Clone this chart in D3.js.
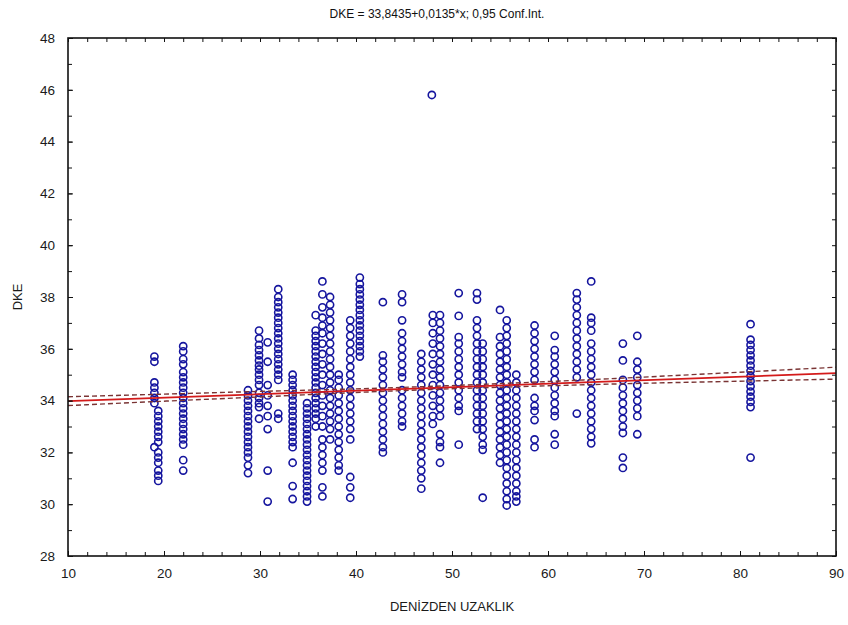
<!DOCTYPE html>
<html>
<head>
<meta charset="utf-8">
<script src="https://cdn.jsdelivr.net/npm/d3@7"></script>
<style>
  body { margin: 0; background: #fff; }
  svg { display: block; font-family: "Liberation Sans", Arial, sans-serif; }
</style>
</head>
<body>
<div id="main"></div>
<script>
var columnX = [19.0, 19.4, 22.0, 28.75, 29.9, 30.8, 31.9, 33.4, 34.9, 35.8, 36.5, 37.3, 38.2,
  39.4, 40.4, 42.8, 44.8, 46.8, 47.9, 48.0, 48.75, 50.7, 52.6, 53.2, 55.0, 55.7, 56.7,
  58.6, 60.7, 63.0, 64.5, 67.8, 69.3, 81.1];

// DKE values in each column (same order as columnX)
var columnDKE = [
  [35.7, 35.5, 34.7, 34.5, 34.3, 34.1, 33.9, 32.2],
  [33.6, 33.4, 33.2, 33.0, 32.8, 32.6, 32.4, 32.0, 31.8, 31.6, 31.3, 31.1, 30.9],
  [36.1, 35.9, 35.6, 35.4, 35.1, 34.9, 34.7, 34.5, 34.3, 34.1, 33.9, 33.7, 33.5, 33.3, 33.1, 32.9, 32.7, 32.5, 32.3, 31.7, 31.3],
  [34.4, 34.2, 34.0, 33.8, 33.6, 33.4, 33.2, 33.0, 32.8, 32.6, 32.4, 32.2, 32.0, 31.8, 31.5, 31.2],
  [36.7, 36.4, 36.15, 35.95, 35.75, 35.55, 35.35, 35.2, 35.0, 34.8, 34.6, 34.3, 34.1, 33.9, 33.75, 33.3],
  [36.25, 35.5, 34.6, 34.2, 33.8, 33.4, 32.9, 31.3, 30.1],
  [38.3, 38.0, 37.8, 37.6, 37.4, 37.2, 37.0, 36.8, 36.6, 36.4, 36.2, 36.0, 35.8, 35.6, 35.4, 35.2, 35.0, 34.8, 33.5, 33.3],
  [35.0, 34.8, 34.6, 34.4, 34.2, 34.0, 33.8, 33.6, 33.4, 33.2, 33.0, 32.8, 32.6, 32.4, 32.2, 31.6, 30.7, 30.2],
  [33.9, 33.7, 33.5, 33.3, 33.1, 32.9, 32.7, 32.5, 32.3, 32.1, 31.9, 31.7, 31.5, 31.3, 31.1, 30.9, 30.7, 30.5, 30.3, 30.1],
  [37.3, 36.7, 36.5, 36.3, 36.1, 35.9, 35.7, 35.5, 35.3, 35.1, 34.9, 34.7, 34.5, 34.3, 34.1, 33.9, 33.7, 33.5, 33.3, 33.0],
  [38.6, 38.1, 37.6, 37.2, 36.9, 36.6, 36.2, 35.8, 35.4, 35.0, 34.6, 34.2, 33.8, 33.4, 33.0, 32.5, 32.2, 31.9, 31.6, 31.3, 30.65, 30.3],
  [38.0, 37.7, 37.4, 37.1, 36.8, 36.5, 36.2, 35.9, 35.6, 35.3, 35.0, 34.7, 34.4, 34.1, 33.8, 33.5, 33.2, 32.9, 32.5],
  [35.0, 34.8, 34.5, 34.2, 33.9, 33.6, 33.3, 33.0, 32.7, 32.4, 32.1, 31.8, 31.5, 31.3],
  [37.1, 36.8, 36.5, 36.2, 35.9, 35.6, 35.3, 35.0, 34.7, 34.4, 34.1, 33.8, 33.5, 33.2, 32.9, 32.5, 31.05, 30.65, 30.25],
  [38.75, 38.5, 38.3, 38.1, 37.9, 37.7, 37.5, 37.3, 37.1, 36.9, 36.7, 36.5, 36.3, 36.1, 35.9, 35.7],
  [37.8, 35.75, 35.5, 35.2, 34.9, 34.6, 34.3, 34.0, 33.7, 33.4, 33.1, 32.8, 32.5, 32.2, 32.0],
  [38.1, 37.8, 37.1, 36.6, 36.3, 36.0, 35.7, 35.4, 35.1, 34.9, 34.4, 34.1, 33.8, 33.5, 33.2, 33.0],
  [35.8, 35.5, 35.2, 34.9, 34.6, 34.3, 34.0, 33.7, 33.4, 33.1, 32.8, 32.5, 32.2, 31.9, 31.6, 31.3, 31.0, 30.6],
  [45.8],
  [37.3, 37.0, 36.6, 36.2, 35.8, 35.4, 35.0, 34.6, 34.2, 33.8, 33.4, 33.1],
  [37.3, 37.0, 36.7, 36.4, 36.1, 35.8, 35.5, 35.2, 34.9, 34.6, 34.3, 34.0, 33.7, 33.4, 32.7, 32.4, 32.2, 31.6],
  [38.15, 37.27, 36.45, 36.2, 35.9, 35.6, 35.3, 35.0, 34.7, 34.4, 34.1, 33.8, 33.6, 32.3],
  [38.15, 37.9, 37.1, 36.8, 36.5, 36.2, 35.9, 35.6, 35.3, 35.0, 34.7, 34.4, 34.1, 33.8, 33.5, 33.2, 32.9],
  [36.2, 35.9, 35.6, 35.3, 35.0, 34.7, 34.4, 34.1, 33.8, 33.5, 33.2, 32.9, 32.6, 32.3, 32.1, 30.25],
  [37.5, 36.45, 36.1, 35.8, 35.5, 35.2, 34.9, 34.6, 34.3, 34.0, 33.7, 33.4, 33.1, 32.8, 32.5, 32.2, 31.9, 31.6],
  [37.1, 36.8, 36.5, 36.2, 35.9, 35.6, 35.3, 35.0, 34.7, 34.4, 34.1, 33.8, 33.5, 33.2, 32.9, 32.6, 32.3, 32.0, 31.7, 31.4, 31.1, 30.8, 30.5, 30.2, 29.95],
  [35.0, 34.7, 34.4, 34.1, 33.8, 33.5, 33.2, 32.9, 32.6, 32.3, 32.0, 31.7, 31.4, 31.1, 30.8, 30.5, 30.3, 30.1],
  [36.9, 36.6, 36.3, 36.0, 35.7, 35.4, 35.1, 34.8, 34.1, 33.8, 33.6, 33.25, 32.5, 32.2],
  [36.5, 35.95, 35.7, 35.4, 35.1, 34.8, 34.5, 34.2, 33.9, 33.6, 33.4, 32.7, 32.3],
  [38.15, 37.9, 37.6, 37.3, 37.0, 36.7, 36.4, 36.1, 35.8, 35.5, 35.2, 34.9, 33.5],
  [38.6, 37.2, 37.0, 36.7, 36.2, 35.9, 35.6, 35.3, 35.0, 34.7, 34.4, 34.1, 33.8, 33.5, 33.2, 32.9, 32.6, 32.35],
  [36.2, 35.55, 34.8, 34.5, 34.2, 33.9, 33.6, 33.3, 33.0, 32.75, 31.8, 31.4],
  [36.5, 35.5, 35.2, 34.9, 34.6, 34.3, 34.0, 33.7, 33.4, 32.7],
  [36.95, 36.35, 36.15, 35.95, 35.75, 35.55, 35.35, 35.15, 34.95, 34.75, 34.55, 34.35, 34.15, 33.95, 33.75, 31.8]
];

// regression line from the title, and 0.95 band half-widths
var fitIntercept = 33.8435, fitSlope = 0.0135;
var bandX = [10, 22, 29, 40, 47, 55, 68, 81, 90];
var bandHalf = [0.17, 0.13, 0.11, 0.07, 0.06, 0.07, 0.11, 0.18, 0.23];

var xTicks = [10, 20, 30, 40, 50, 60, 70, 80, 90];
var yTicks = [28, 30, 32, 34, 36, 38, 40, 42, 44, 46, 48];

var titleText = 'DKE = 33,8435+0,0135*x; 0,95 Conf.Int.';
var xLabel = 'DENİZDEN UZAKLIK';
var yLabel = 'DKE';

var width = 848, height = 625;
var margins = { top: 38, bottom: 69, left: 68, right: 12 };
var w = width - margins.left - margins.right, h = height - margins.top - margins.bottom;

var x = d3.scaleLinear().domain([10, 90]).range([0, w]);
var y = d3.scaleLinear().domain([28, 48]).range([h, 0]);

var svg = d3.select('#main').append('svg')
  .attr('width', width).attr('height', height);

svg.append('text')
  .attr('x', 437).attr('y', 18)
  .style('text-anchor', 'middle')
  .style('font-size', '12px')
  .attr('fill', '#111')
  .text(titleText);

var chart = svg.append('g')
  .attr('transform', 'translate(' + margins.left + ',' + margins.top + ')');

// points
var points = [];
columnX.forEach(function(cx, i) {
  columnDKE[i].forEach(function(v) { points.push({ x: cx, y: v }); });
});

chart.selectAll('.point').data(points)
  .enter().append('circle')
  .attr('class', 'point')
  .attr('cx', function(d) { return x(d.x); })
  .attr('cy', function(d) { return y(d.y); })
  .attr('r', 3.6)
  .attr('fill', 'none')
  .attr('stroke', '#15159e')
  .attr('stroke-width', 1.6);

// fit + confidence band
var fit = function(v) { return fitIntercept + fitSlope * v; };
var line = d3.line()
  .x(function(d) { return x(d[0]); })
  .y(function(d) { return y(d[1]); })
  .curve(d3.curveMonotoneX);

var upper = bandX.map(function(v, i) { return [v, fit(v) + bandHalf[i]]; });
var lower = bandX.map(function(v, i) { return [v, fit(v) - bandHalf[i]]; });

[upper, lower].forEach(function(b) {
  chart.append('path')
    .attr('d', line(b))
    .attr('fill', 'none')
    .attr('stroke', '#7a3434')
    .attr('stroke-width', 1.4)
    .attr('stroke-dasharray', '5,3');
});

chart.append('path')
  .attr('d', line([[10, fit(10)], [90, fit(90)]]))
  .attr('fill', 'none')
  .attr('stroke', '#d41a1a')
  .attr('stroke-width', 1.8);

// axes with inward ticks
var minorX = d3.range(10, 91, 2), minorY = d3.range(28, 49, 1);

chart.append('g')
  .attr('transform', 'translate(0,' + h + ')')
  .call(d3.axisBottom(x).tickValues(minorX).tickSize(-4).tickFormat(''));
chart.append('g')
  .attr('transform', 'translate(0,' + h + ')')
  .call(d3.axisBottom(x).tickValues(xTicks).tickSize(-5).tickPadding(12).tickFormat(d3.format('d')));
chart.append('g')
  .call(d3.axisTop(x).tickValues(minorX).tickSize(-4).tickFormat(''));
chart.append('g')
  .call(d3.axisLeft(y).tickValues(minorY).tickSize(-4).tickFormat(''));
chart.append('g')
  .call(d3.axisLeft(y).tickValues(yTicks).tickSize(-5).tickPadding(13).tickFormat(d3.format('d')));
chart.append('g')
  .attr('transform', 'translate(' + w + ',0)')
  .call(d3.axisRight(y).tickValues(minorY).tickSize(-4).tickFormat(''));

chart.selectAll('.domain').remove();
chart.selectAll('.tick line').attr('stroke', '#111');
chart.selectAll('.tick text')
  .style('font-size', '13.5px')
  .style('font-family', '"Liberation Sans", Arial, sans-serif')
  .attr('fill', '#1a1a1a');

chart.append('rect')
  .attr('width', w).attr('height', h)
  .attr('fill', 'none')
  .attr('stroke', '#111')
  .attr('stroke-width', 1.6);

svg.append('text')
  .attr('x', margins.left + w / 2).attr('y', 611)
  .style('text-anchor', 'middle')
  .style('font-size', '13px')
  .attr('fill', '#1a1a1a')
  .text(xLabel);

svg.append('text')
  .attr('transform', 'rotate(-90)')
  .attr('x', -297).attr('y', 22)
  .style('text-anchor', 'middle')
  .style('font-size', '13px')
  .attr('fill', '#1a1a1a')
  .text(yLabel);
</script>
</body>
</html>
